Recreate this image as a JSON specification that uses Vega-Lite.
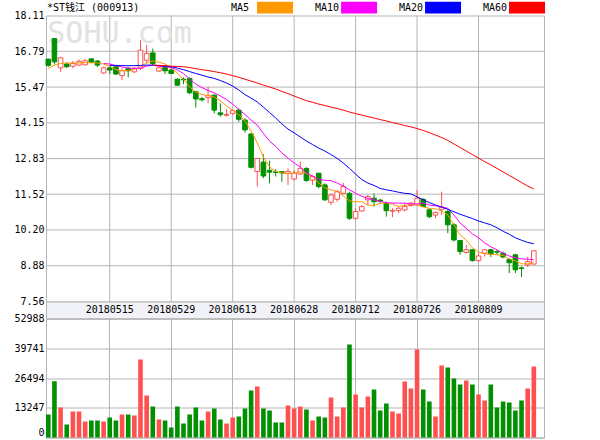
{
  "$schema": "https://vega.github.io/schema/vega-lite/v6.json",
  "background": "white",
  "padding": {"left": 13, "top": 1.5, "right": 0, "bottom": 0},
  "datasets": {
    "k": [
      {"d":"20180427","o":16.50,"h":16.52,"l":16.22,"c":16.27,"v":10240,"MA5":16.16,"MA10":null,"MA20":null,"MA60":null},
      {"d":"20180502","o":17.26,"h":17.28,"l":16.31,"c":16.40,"v":25080,"MA5":16.28,"MA10":null,"MA20":null,"MA60":null},
      {"d":"20180503","o":16.18,"h":16.59,"l":16.03,"c":16.55,"v":13360,"MA5":16.34,"MA10":null,"MA20":null,"MA60":null},
      {"d":"20180504","o":16.32,"h":16.38,"l":16.18,"c":16.22,"v":5790,"MA5":16.36,"MA10":null,"MA20":null,"MA60":null},
      {"d":"20180507","o":16.24,"h":16.43,"l":16.16,"c":16.34,"v":11580,"MA5":16.36,"MA10":null,"MA20":null,"MA60":null},
      {"d":"20180508","o":16.28,"h":16.49,"l":16.25,"c":16.42,"v":11580,"MA5":16.36,"MA10":null,"MA20":null,"MA60":null},
      {"d":"20180509","o":16.29,"h":16.51,"l":16.27,"c":16.44,"v":7125,"MA5":16.37,"MA10":null,"MA20":null,"MA60":null},
      {"d":"20180510","o":16.51,"h":16.52,"l":16.35,"c":16.38,"v":7570,"MA5":16.37,"MA10":null,"MA20":null,"MA60":null},
      {"d":"20180511","o":16.43,"h":16.47,"l":16.21,"c":16.28,"v":7570,"MA5":16.36,"MA10":null,"MA20":null,"MA60":null},
      {"d":"20180514","o":15.99,"h":16.22,"l":15.95,"c":16.18,"v":7125,"MA5":16.32,"MA10":16.34,"MA20":null,"MA60":null},
      {"d":"20180515","o":16.18,"h":16.25,"l":15.95,"c":16.10,"v":8900,"MA5":16.24,"MA10":16.32,"MA20":16.27,"MA60":null},
      {"d":"20180516","o":16.22,"h":16.25,"l":15.93,"c":15.95,"v":7570,"MA5":16.11,"MA10":16.26,"MA20":16.27,"MA60":null},
      {"d":"20180517","o":15.89,"h":16.16,"l":15.73,"c":16.07,"v":10240,"MA5":16.08,"MA10":16.21,"MA20":16.26,"MA60":null},
      {"d":"20180518","o":16.16,"h":16.22,"l":15.83,"c":16.07,"v":10240,"MA5":16.07,"MA10":16.17,"MA20":16.26,"MA60":null},
      {"d":"20180521","o":16.03,"h":16.22,"l":16.00,"c":16.16,"v":9800,"MA5":16.12,"MA10":16.16,"MA20":16.26,"MA60":null},
      {"d":"20180522","o":16.16,"h":17.20,"l":16.09,"c":16.83,"v":34730,"MA5":16.22,"MA10":16.17,"MA20":16.27,"MA60":null},
      {"d":"20180523","o":16.46,"h":17.02,"l":16.34,"c":16.71,"v":18700,"MA5":16.36,"MA10":16.24,"MA20":16.28,"MA60":null},
      {"d":"20180524","o":16.73,"h":16.89,"l":16.28,"c":16.34,"v":13800,"MA5":16.43,"MA10":16.28,"MA20":16.28,"MA60":16.28},
      {"d":"20180525","o":16.06,"h":16.22,"l":16.03,"c":16.18,"v":8015,"MA5":16.39,"MA10":16.24,"MA20":16.26,"MA60":16.27},
      {"d":"20180528","o":16.19,"h":16.28,"l":15.95,"c":16.07,"v":7570,"MA5":16.32,"MA10":16.22,"MA20":16.24,"MA60":16.26},
      {"d":"20180529","o":16.10,"h":16.16,"l":15.95,"c":15.97,"v":4450,"MA5":16.17,"MA10":16.19,"MA20":16.22,"MA60":16.24},
      {"d":"20180530","o":15.76,"h":15.79,"l":15.51,"c":15.54,"v":13800,"MA5":15.98,"MA10":16.10,"MA20":16.17,"MA60":16.23},
      {"d":"20180531","o":15.76,"h":15.83,"l":15.58,"c":15.74,"v":6230,"MA5":15.76,"MA10":15.97,"MA20":16.11,"MA60":16.22},
      {"d":"20180601","o":15.79,"h":15.83,"l":15.21,"c":15.26,"v":10240,"MA5":15.47,"MA10":15.76,"MA20":16.04,"MA60":16.19},
      {"d":"20180604","o":15.30,"h":15.33,"l":14.71,"c":15.03,"v":13360,"MA5":15.29,"MA10":15.58,"MA20":15.97,"MA60":16.15},
      {"d":"20180605","o":15.04,"h":15.11,"l":14.93,"c":15.00,"v":7570,"MA5":15.19,"MA10":15.45,"MA20":15.91,"MA60":16.11},
      {"d":"20180606","o":15.08,"h":15.48,"l":14.87,"c":15.15,"v":11580,"MA5":15.16,"MA10":15.34,"MA20":15.84,"MA60":16.08},
      {"d":"20180607","o":15.17,"h":15.21,"l":14.50,"c":14.62,"v":12910,"MA5":15.10,"MA10":15.26,"MA20":15.79,"MA60":16.04},
      {"d":"20180608","o":14.52,"h":14.87,"l":14.38,"c":14.45,"v":8015,"MA5":14.97,"MA10":15.14,"MA20":15.71,"MA60":16.00},
      {"d":"20180612","o":14.43,"h":14.65,"l":14.38,"c":14.46,"v":6230,"MA5":14.77,"MA10":15.01,"MA20":15.62,"MA60":15.95},
      {"d":"20180613","o":14.50,"h":14.65,"l":14.44,"c":14.60,"v":8900,"MA5":14.62,"MA10":14.84,"MA20":15.51,"MA60":15.89},
      {"d":"20180614","o":14.62,"h":14.68,"l":14.19,"c":14.28,"v":9350,"MA5":14.44,"MA10":14.64,"MA20":15.36,"MA60":15.83},
      {"d":"20180615","o":14.25,"h":14.32,"l":13.79,"c":13.89,"v":12910,"MA5":14.22,"MA10":14.46,"MA20":15.19,"MA60":15.76},
      {"d":"20180619","o":13.74,"h":13.76,"l":12.47,"c":12.51,"v":20930,"MA5":13.85,"MA10":14.25,"MA20":15.06,"MA60":15.69},
      {"d":"20180620","o":12.35,"h":12.84,"l":11.80,"c":12.84,"v":22710,"MA5":13.41,"MA10":14.07,"MA20":14.92,"MA60":15.62},
      {"d":"20180621","o":12.70,"h":12.99,"l":12.11,"c":12.19,"v":12910,"MA5":12.89,"MA10":13.76,"MA20":14.73,"MA60":15.54},
      {"d":"20180622","o":12.40,"h":12.75,"l":11.92,"c":12.33,"v":12020,"MA5":12.52,"MA10":13.48,"MA20":14.53,"MA60":15.47},
      {"d":"20180625","o":12.34,"h":12.44,"l":12.17,"c":12.32,"v":6680,"MA5":12.36,"MA10":13.28,"MA20":14.33,"MA60":15.40},
      {"d":"20180626","o":12.35,"h":12.36,"l":11.98,"c":12.30,"v":6680,"MA5":12.30,"MA10":13.04,"MA20":14.11,"MA60":15.31},
      {"d":"20180627","o":12.28,"h":12.47,"l":11.86,"c":12.36,"v":14250,"MA5":12.29,"MA10":12.85,"MA20":13.92,"MA60":15.23},
      {"d":"20180628","o":12.08,"h":12.41,"l":12.02,"c":12.29,"v":12910,"MA5":12.30,"MA10":12.67,"MA20":13.78,"MA60":15.14},
      {"d":"20180629","o":12.26,"h":12.72,"l":12.23,"c":12.47,"v":13800,"MA5":12.34,"MA10":12.52,"MA20":13.63,"MA60":15.05},
      {"d":"20180702","o":12.47,"h":12.51,"l":11.98,"c":12.02,"v":12470,"MA5":12.29,"MA10":12.30,"MA20":13.48,"MA60":14.97},
      {"d":"20180703","o":12.04,"h":12.23,"l":11.86,"c":12.17,"v":7570,"MA5":12.17,"MA10":12.19,"MA20":13.35,"MA60":14.91},
      {"d":"20180704","o":12.29,"h":12.31,"l":11.74,"c":11.80,"v":9350,"MA5":11.93,"MA10":12.06,"MA20":13.22,"MA60":14.84},
      {"d":"20180705","o":11.86,"h":11.92,"l":11.27,"c":11.31,"v":8900,"MA5":11.75,"MA10":12.03,"MA20":13.11,"MA60":14.79},
      {"d":"20180706","o":11.22,"h":11.55,"l":11.12,"c":11.49,"v":17810,"MA5":11.68,"MA10":12.02,"MA20":12.98,"MA60":14.73},
      {"d":"20180709","o":11.33,"h":11.67,"l":11.24,"c":11.61,"v":9350,"MA5":11.62,"MA10":11.93,"MA20":12.84,"MA60":14.68},
      {"d":"20180710","o":11.55,"h":11.94,"l":11.52,"c":11.80,"v":13360,"MA5":11.45,"MA10":11.82,"MA20":12.67,"MA60":14.62},
      {"d":"20180711","o":11.55,"h":11.61,"l":10.57,"c":10.63,"v":41410,"MA5":11.27,"MA10":11.68,"MA20":12.47,"MA60":14.55},
      {"d":"20180712","o":10.63,"h":11.00,"l":10.57,"c":10.88,"v":19150,"MA5":11.24,"MA10":11.55,"MA20":12.26,"MA60":14.49},
      {"d":"20180713","o":10.90,"h":11.12,"l":10.88,"c":11.06,"v":13360,"MA5":11.24,"MA10":11.44,"MA20":12.06,"MA60":14.44},
      {"d":"20180716","o":11.31,"h":11.49,"l":11.12,"c":11.43,"v":18260,"MA5":11.12,"MA10":11.36,"MA20":11.93,"MA60":14.38},
      {"d":"20180717","o":11.37,"h":11.55,"l":11.06,"c":11.24,"v":21370,"MA5":11.10,"MA10":11.31,"MA20":11.84,"MA60":14.33},
      {"d":"20180718","o":11.30,"h":11.35,"l":11.20,"c":11.26,"v":12020,"MA5":11.18,"MA10":11.25,"MA20":11.73,"MA60":14.27},
      {"d":"20180719","o":11.19,"h":11.24,"l":10.69,"c":10.91,"v":15140,"MA5":11.20,"MA10":11.21,"MA20":11.68,"MA60":14.22},
      {"d":"20180720","o":10.89,"h":11.00,"l":10.67,"c":10.92,"v":11580,"MA5":11.15,"MA10":11.19,"MA20":11.64,"MA60":14.16},
      {"d":"20180723","o":10.91,"h":11.06,"l":10.82,"c":11.00,"v":10690,"MA5":11.07,"MA10":11.19,"MA20":11.59,"MA60":14.11},
      {"d":"20180724","o":10.94,"h":11.19,"l":10.88,"c":11.06,"v":24940,"MA5":11.10,"MA10":11.19,"MA20":11.55,"MA60":14.05},
      {"d":"20180725","o":11.10,"h":11.22,"l":11.06,"c":11.19,"v":21820,"MA5":11.15,"MA10":11.16,"MA20":11.53,"MA60":14.00},
      {"d":"20180726","o":11.12,"h":11.67,"l":11.09,"c":11.37,"v":39190,"MA5":11.13,"MA10":11.16,"MA20":11.42,"MA60":13.94},
      {"d":"20180727","o":11.33,"h":11.37,"l":11.04,"c":11.06,"v":21370,"MA5":11.05,"MA10":11.19,"MA20":11.31,"MA60":13.87},
      {"d":"20180730","o":10.94,"h":11.00,"l":10.63,"c":10.69,"v":16030,"MA5":10.99,"MA10":11.12,"MA20":11.21,"MA60":13.79},
      {"d":"20180731","o":10.75,"h":10.88,"l":10.63,"c":10.84,"v":9350,"MA5":10.98,"MA10":11.09,"MA20":11.12,"MA60":13.70},
      {"d":"20180801","o":10.96,"h":11.61,"l":10.75,"c":11.04,"v":32060,"MA5":10.90,"MA10":11.05,"MA20":11.04,"MA60":13.61},
      {"d":"20180802","o":10.88,"h":10.94,"l":10.08,"c":10.39,"v":31170,"MA5":10.75,"MA10":11.00,"MA20":10.96,"MA60":13.50},
      {"d":"20180803","o":10.39,"h":10.45,"l":9.77,"c":9.83,"v":26270,"MA5":10.39,"MA10":10.75,"MA20":10.87,"MA60":13.37},
      {"d":"20180806","o":9.81,"h":9.83,"l":9.28,"c":9.40,"v":23600,"MA5":10.02,"MA10":10.46,"MA20":10.78,"MA60":13.24},
      {"d":"20180807","o":9.37,"h":9.65,"l":9.32,"c":9.47,"v":25380,"MA5":9.83,"MA10":10.26,"MA20":10.70,"MA60":13.11},
      {"d":"20180808","o":9.47,"h":9.49,"l":9.03,"c":9.07,"v":23600,"MA5":9.54,"MA10":10.05,"MA20":10.62,"MA60":12.98},
      {"d":"20180809","o":9.07,"h":9.34,"l":9.03,"c":9.24,"v":19150,"MA5":9.39,"MA10":9.91,"MA20":10.53,"MA60":12.85},
      {"d":"20180810","o":9.34,"h":9.49,"l":9.22,"c":9.47,"v":16480,"MA5":9.32,"MA10":9.72,"MA20":10.46,"MA60":12.72},
      {"d":"20180813","o":9.47,"h":9.49,"l":9.20,"c":9.32,"v":23600,"MA5":9.30,"MA10":9.58,"MA20":10.39,"MA60":12.60},
      {"d":"20180814","o":9.40,"h":9.47,"l":9.28,"c":9.38,"v":13360,"MA5":9.28,"MA10":9.47,"MA20":10.28,"MA60":12.47},
      {"d":"20180815","o":9.34,"h":9.40,"l":9.16,"c":9.20,"v":16030,"MA5":9.26,"MA10":9.34,"MA20":10.15,"MA60":12.34},
      {"d":"20180816","o":9.11,"h":9.16,"l":8.61,"c":8.99,"v":15590,"MA5":9.13,"MA10":9.24,"MA20":10.04,"MA60":12.21},
      {"d":"20180817","o":9.28,"h":9.32,"l":8.61,"c":8.73,"v":12020,"MA5":9.06,"MA10":9.17,"MA20":9.91,"MA60":12.08},
      {"d":"20180820","o":8.80,"h":8.85,"l":8.46,"c":8.78,"v":16480,"MA5":8.95,"MA10":9.13,"MA20":9.82,"MA60":11.95},
      {"d":"20180821","o":8.91,"h":9.20,"l":8.83,"c":9.03,"v":21820,"MA5":8.95,"MA10":9.12,"MA20":9.74,"MA60":11.82},
      {"d":"20180822","o":8.94,"h":9.43,"l":8.94,"c":9.43,"v":31620,"MA5":8.99,"MA10":9.10,"MA20":9.69,"MA60":11.71}
    ]
  },
  "data": {"name": "k"},
  "spacing": 0,
  "bounds": "flush",
  "resolve": {"scale": {"x": "shared"}},
  "vconcat": [
    {
      "width": 498,
      "height": 286,
      "resolve": {"axis": {"y": "independent", "x": "independent"}},
      "layer": [
        {
          "data": {"values": [{"g": 8.88}, {"g": 10.2}, {"g": 11.52}, {"g": 12.83}, {"g": 14.15}, {"g": 15.47}, {"g": 16.79}]},
          "mark": {"type": "rule", "color": "#B4B4B4", "strokeWidth": 1},
          "encoding": {
            "y": {"field": "g", "type": "quantitative", "title": null, "axis": null,
                  "scale": {"domain": [7.56, 18.11], "nice": false, "zero": false}}
          }
        },
        {
          "transform": [{"filter": {"field": "d", "oneOf": ["20180515","20180529","20180613","20180628","20180712","20180726","20180809"]}}],
          "mark": {"type": "rule", "color": "#B4B4B4", "strokeWidth": 1},
          "encoding": {
            "x": {"field": "d", "type": "ordinal", "title": null, "axis": null,
                  "scale": {"paddingInner": 0.25, "paddingOuter": 0.64, "align": 0}}
          }
        },
        {
          "data": {"values": [{"t": "SOHU.com", "d": "20180427", "p": 17.09}]},
          "mark": {"type": "text", "font": "DejaVu Sans Mono", "fontSize": 30, "color": "#E2E2E2", "align": "left", "baseline": "alphabetic", "dx": -1},
          "encoding": {
            "x": {"field": "d", "type": "ordinal", "title": null, "axis": null},
            "y": {"field": "p", "type": "quantitative", "title": null, "axis": null},
            "text": {"field": "t"}
          }
        },
        {
          "mark": {"type": "rule", "strokeWidth": 1},
          "encoding": {
            "x": {"field": "d", "type": "ordinal", "title": null, "axis": null},
            "y": {"field": "l", "type": "quantitative", "title": null,
                  "axis": {"values": [7.56, 8.88, 10.2, 11.52, 12.83, 14.15, 15.47, 16.79, 18.11], "format": ".2f", "grid": false, "labelOverlap": false}},
            "y2": {"field": "h"},
            "stroke": {"condition": {"test": "datum.c >= datum.o", "value": "#FF5050"}, "value": "#009000"}
          }
        },
        {
          "mark": {"type": "bar", "strokeWidth": 1},
          "encoding": {
            "x": {"field": "d", "type": "ordinal", "title": null, "axis": null},
            "y": {"field": "o", "type": "quantitative", "title": null, "axis": null},
            "y2": {"field": "c"},
            "fill": {"condition": {"test": "datum.c >= datum.o", "value": "#FFFFFF"}, "value": "#009000"},
            "stroke": {"condition": {"test": "datum.c >= datum.o", "value": "#FF5050"}, "value": "#009000"}
          }
        },
        {
          "transform": [{"fold": ["MA5", "MA10", "MA20", "MA60"], "as": ["ma", "val"]}],
          "mark": {"type": "line", "strokeWidth": 1},
          "encoding": {
            "x": {"field": "d", "type": "ordinal", "title": null, "axis": null},
            "y": {"field": "val", "type": "quantitative", "title": null, "axis": null},
            "color": {"field": "ma", "type": "nominal",
                      "scale": {"domain": ["MA5", "MA10", "MA20", "MA60"], "range": ["#FF9900", "#FF00FF", "#0000FF", "#FF0000"]},
                      "legend": {"orient": "none", "legendX": 1, "legendY": -14, "direction": "horizontal",
                                 "title": "*ST钱江 (000913)", "titleOrient": "left", "titlePadding": 91, "titleAnchor": "middle", "titleBaseline": "middle",
                                 "titleFont": "DejaVu Sans Mono, Noto Sans CJK SC", "titleFontSize": 10, "titleFontWeight": "normal", "titleColor": "#000000",
                                 "symbolType": "M3.34,-0.96H9.34V0.96H3.34Z", "symbolSize": 144, "symbolStrokeWidth": 0, "symbolOpacity": 1,
                                 "labelOffset": -12, "columnPadding": 21, "padding": 0,
                                 "labelFont": "DejaVu Sans Mono", "labelFontSize": 10, "labelColor": "#000000",
                                 "encode": {"symbols": {"update": {"fill": {"scale": "color", "field": "value"}, "fillOpacity": {"value": 1}, "strokeWidth": {"value": 0}}}}}}
          }
        }
      ]
    },
    {
      "width": 498,
      "height": 17,
      "view": {"fill": "#F1F2F8", "stroke": "#B4B4B4"},
      "transform": [{"filter": {"field": "d", "oneOf": ["20180515","20180529","20180613","20180628","20180712","20180726","20180809"]}}],
      "mark": {"type": "text", "font": "DejaVu Sans Mono", "fontSize": 10, "color": "#000000"},
      "encoding": {
        "x": {"field": "d", "type": "ordinal", "axis": null},
        "text": {"field": "d"}
      }
    },
    {
      "width": 498,
      "height": 119,
      "mark": {"type": "bar"},
      "encoding": {
        "x": {"field": "d", "type": "ordinal", "title": null,
              "axis": {"values": ["20180515","20180529","20180613","20180628","20180712","20180726","20180809"], "labels": false, "ticks": false, "domain": false, "grid": true, "bandPosition": 0.5, "minExtent": 0, "maxExtent": 0}},
        "y": {"field": "v", "type": "quantitative", "title": null,
              "scale": {"domain": [0, 52988], "nice": false},
              "axis": {"values": [0, 13247, 26494, 39741, 52988], "format": "d", "grid": true, "labelOverlap": false,
                       "labelBaseline": {"condition": {"test": "datum.value === 0", "value": "bottom"}, "value": "middle"}}},
        "fill": {"condition": {"test": "datum.c >= datum.o", "value": "#FF5050"}, "value": "#009000"}
      }
    }
  ],
  "config": {
    "view": {"stroke": "#B4B4B4"},
    "axis": {"labelFont": "DejaVu Sans Mono", "labelFontSize": 10, "labelColor": "#000000", "gridColor": "#B4B4B4", "gridOpacity": 1, "gridWidth": 1, "domain": false, "ticks": false, "labelPadding": 2, "labelOverlap": false}
  }
}
